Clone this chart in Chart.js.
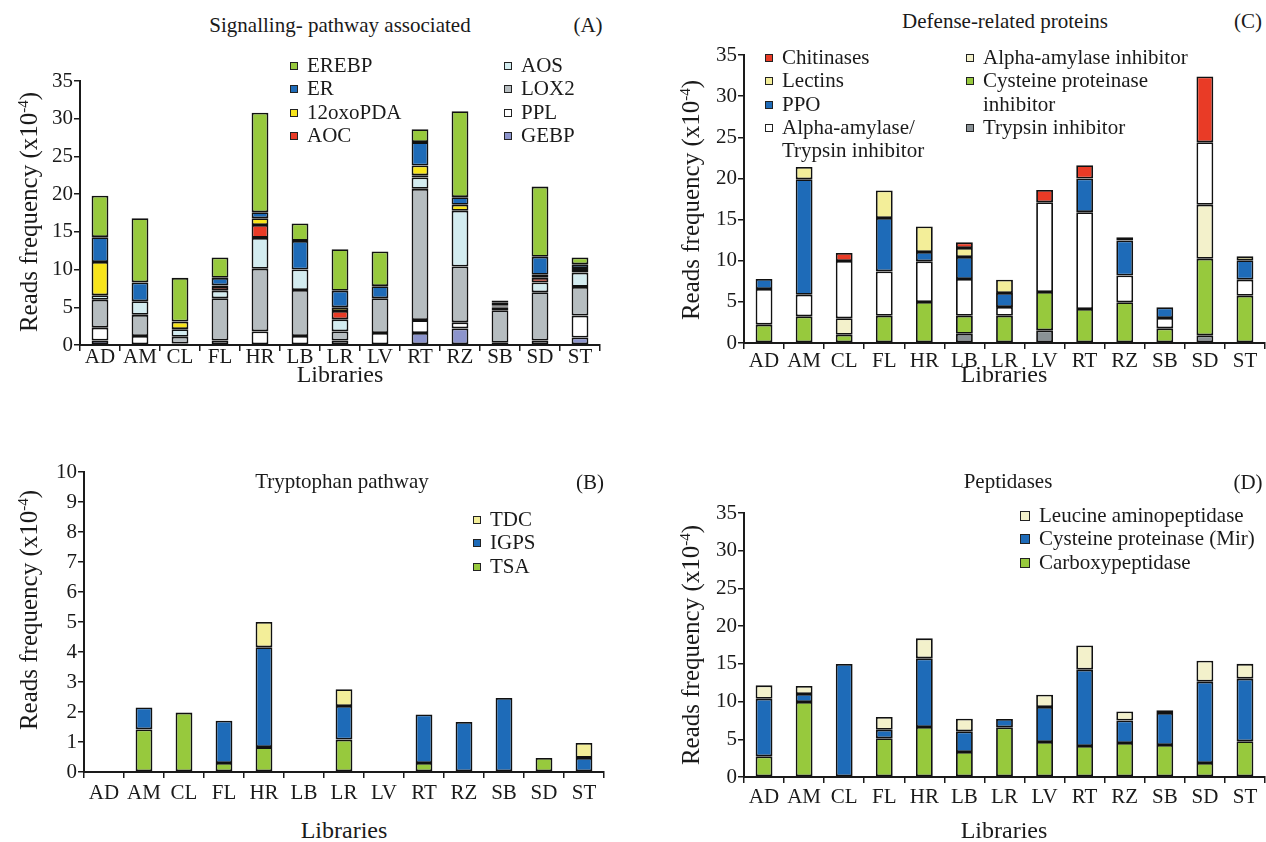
<!DOCTYPE html>
<html>
<head>
<meta charset="utf-8">
<script src="https://cdn.jsdelivr.net/npm/chart.js@4"></script>
<style>
  body { margin:0; background:#fff; width:1266px; height:842px; position:relative; overflow:hidden;
         font-family:'Liberation Serif','Times New Roman',serif; color:#1a1a1a; }
  canvas { position:absolute; }
  .t { position:absolute; white-space:nowrap; font-size:21px; transform:translate(-50%,-50%); }
  .lib { position:absolute; white-space:nowrap; font-size:24px; transform:translate(-50%,-50%); }
  .ylab { position:absolute; white-space:nowrap; font-size:25px; transform:translate(-50%,-50%) rotate(-90deg); }
  .ylab sup { font-size:15px; }
  .leg { position:absolute; font-size:21px; line-height:23.3px; white-space:nowrap; }
  .leg div { position:relative; padding-left:17px; }
  .leg i { position:absolute; left:0; top:8px; width:6px; height:6px; border:1.5px solid #222; }
  #legD div { padding-left:19px; }
  #legD i { width:8px; height:8px; top:7px; }
  .leg .cont i { display:none; }
</style>
</head>
<body>

<canvas id="chA"></canvas>
<canvas id="chB"></canvas>
<canvas id="chC"></canvas>
<canvas id="chD"></canvas>

<div class="t" style="left:340px;top:25px">Signalling- pathway associated</div>
<div class="t" style="left:588px;top:25px">(A)</div>
<div class="t" style="left:1005px;top:21px">Defense-related proteins</div>
<div class="t" style="left:1248px;top:21px">(C)</div>
<div class="t" style="left:342px;top:481px">Tryptophan pathway</div>
<div class="t" style="left:590px;top:482px">(B)</div>
<div class="t" style="left:1008px;top:481px">Peptidases</div>
<div class="t" style="left:1248px;top:482px">(D)</div>

<div class="lib" style="left:340px;top:374px">Libraries</div>
<div class="lib" style="left:1004px;top:374px">Libraries</div>
<div class="lib" style="left:344px;top:830px">Libraries</div>
<div class="lib" style="left:1004px;top:830px">Libraries</div>

<div class="ylab" style="left:29px;top:212px">Reads frequency (x10<sup>-4</sup>)</div>
<div class="ylab" style="left:691px;top:200px">Reads frequency (x10<sup>-4</sup>)</div>
<div class="ylab" style="left:29px;top:610px">Reads frequency (x10<sup>-4</sup>)</div>
<div class="ylab" style="left:691px;top:645px">Reads frequency (x10<sup>-4</sup>)</div>

<div id="legA1" class="leg" style="left:290px;top:54px"></div>
<div id="legA2" class="leg" style="left:504px;top:54px"></div>
<div id="legB" class="leg" style="left:473px;top:508px"></div>
<div id="legC1" class="leg" style="left:765px;top:46px"></div>
<div id="legC2" class="leg" style="left:966px;top:46px"></div>
<div id="legD" class="leg" style="left:1020px;top:504px"></div>

<script>
const libraries = ['AD','AM','CL','FL','HR','LB','LR','LV','RT','RZ','SB','SD','ST']

// (A) signalling pathway associated, stacked bottom -> top
const gebp   = [0.6, 0,   0,   0,   0,    0,   0,   0,   1.6,  2.2,  0,   0,   1.0]
const ppl    = [1.7, 1.2, 0.2, 0.6, 1.8,  1.2, 0.6, 1.6, 1.7,  0.8,  0.3, 0.6, 2.9]
const lox2   = [3.7, 2.8, 0.9, 5.6, 8.3,  6.1, 1.2, 4.6, 17.4, 7.4,  4.3, 6.4, 3.8]
const aos    = [0.6, 1.8, 1.0, 1.0, 4.1,  2.7, 1.6, 0,   1.5,  7.4,  0.4, 1.3, 1.9]
const aoc    = [0,   0,   0,   0.5, 1.7,  0,   1.1, 0,   0.3,  0,    0.1, 0.6, 0.2]
const oxopda = [4.4, 0,   1.0, 0.2, 0.9,  0,   0.5, 0,   1.3,  0.8,  0.1, 0.4, 0.4]
const er     = [3.3, 2.5, 0,   1.0, 0.8,  3.8, 2.2, 1.6, 3.1,  1.0,  0.4, 2.4, 0.5]
const erebp  = [5.5, 8.5, 5.8, 2.7, 13.2, 2.3, 5.5, 4.6, 1.7,  11.4, 0.3, 9.3, 0.9]

// (B) tryptophan pathway
const tsa  = [0, 1.42, 1.98, 0.3,  0.83, 0, 1.08, 0, 0.3,  0,    0,    0.47, 0]
const igps = [0, 0.73, 0,    1.41, 3.33, 0, 1.12, 0, 1.62, 1.67, 2.47, 0,    0.47]
const tdc  = [0, 0,    0,    0,    0.84, 0, 0.56, 0, 0,    0,    0,    0,    0.5]

// (C) defense-related proteins
const trypsinInh  = [0,    0,     0,    0,    0,    1.13, 0,    1.54, 0,     0,    0,    0.93, 0]
const cysInh      = [2.23, 3.24,  1.0,  3.32, 4.98, 2.19, 3.32, 4.66, 4.13,  4.96, 1.78, 9.31, 5.75]
const amylaseInh  = [0,    0,     2.0,  0,    0,    0,    0,    0,    0,     0,    0,    6.56, 0]
const amylTrypInh = [4.33, 2.63,  6.96, 5.38, 4.94, 4.45, 1.05, 10.9, 11.77, 3.24, 1.26, 7.6,  1.95]
const ppo         = [1.21, 14.03, 0,    6.5,  1.13, 2.68, 1.7,  0,    4.1,   4.25, 1.29, 0,    2.35]
const lectins     = [0,    1.5,   0,    3.34, 3.12, 1.09, 1.62, 0,    0,     0.4,  0,    0,    0.5]
const chitinases  = [0,    0,     0.97, 0,    0,    0.69, 0,    1.5,  1.6,   0,    0,    8.0,  0]

// (D) peptidases
const carboxy = [2.74, 9.94, 0,     5.13, 6.63, 3.31, 6.58, 4.64, 4.11,  4.5, 4.24, 1.86,  4.73]
const cysMir  = [7.64, 1.06, 14.98, 1.14, 9.1,  2.74, 1.11, 4.64, 10.12, 3.0, 4.24, 10.78, 8.31]
const leuAmp  = [1.77, 1.06, 0,     1.68, 2.65, 1.68, 0,    1.62, 3.22,  1.2, 0.36, 2.78,  1.96]

const C = {
  green: '#97C93D', blue: '#1E6BB8', yellow: '#F7E41B', red: '#E93B26', cyan: '#D3ECF0',
  grey: '#B6BDC0', white: '#FFFFFF', violet: '#8C94CC', lectin: '#F3EE99', pale: '#F3F1CB',
  dark: '#8A9296', ink: '#1a1a1a',
}
const FONT = "'Liberation Serif', 'Times New Roman', serif"

function ds(label, data, color) {
  return { label, data: data.map(v => v || null), backgroundColor: color,
    borderColor: '#111', borderWidth: 1.8, borderSkipped: false,
    categoryPercentage: 1, barPercentage: 0.42 }
}

// labelPad: gap between the x axis line and the category labels
function panel(id, box, yMax, step, labelPad, datasets) {
  const padTop = 15, padRight = 24, yW = 52, xH = 42
  const c = document.getElementById(id)
  c.width = yW + box.w + padRight
  c.height = padTop + box.h + xH
  c.style.left = (box.x - yW) + 'px'
  c.style.top = (box.y - padTop) + 'px'
  const axis = {
    grid: { drawOnChartArea: false, drawTicks: true, tickLength: 6, color: C.ink, lineWidth: 1.5 },
    border: { color: C.ink, width: 2 },
  }
  new Chart(c, {
    type: 'bar',
    data: { labels: libraries, datasets },
    options: {
      responsive: false, animation: false,
      layout: { padding: { top: padTop, right: padRight, left: 0, bottom: 0 } },
      plugins: { legend: { display: false }, tooltip: { enabled: false } },
      scales: {
        x: { ...axis, stacked: true,
             ticks: { color: C.ink, font: { family: FONT, size: 21 }, padding: labelPad, maxRotation: 0 },
             afterFit: s => { s.height = xH } },
        y: { ...axis, stacked: true, min: 0, max: yMax,
             ticks: { stepSize: step, color: C.ink, font: { family: FONT, size: 21 }, padding: 1 },
             afterFit: s => { s.width = yW } },
      },
    },
  })
}

function legend(id, items) {
  document.getElementById(id).innerHTML = items.map(([name, color]) =>
    color ? `<div><i style="background:${color}"></i>${name}</div>`
          : `<div class="cont"><i></i>${name}</div>`).join('')
}

panel('chA', { x: 80, y: 81, w: 520, h: 264 }, 35, 5, -6, [
  ds('GEBP', gebp, C.violet), ds('PPL', ppl, C.white), ds('LOX2', lox2, C.grey),
  ds('AOS', aos, C.cyan), ds('AOC', aoc, C.red), ds('12oxoPDA', oxopda, C.yellow),
  ds('ER', er, C.blue), ds('EREBP', erebp, C.green),
])
panel('chB', { x: 84, y: 472, w: 520, h: 300 }, 10, 1, 3, [
  ds('TSA', tsa, C.green), ds('IGPS', igps, C.blue), ds('TDC', tdc, C.lectin),
])
panel('chC', { x: 744, y: 55, w: 521, h: 288 }, 35, 5, 0, [
  ds('Trypsin inhibitor', trypsinInh, C.dark), ds('Cysteine proteinase inhibitor', cysInh, C.green),
  ds('Alpha-amylase inhibitor', amylaseInh, C.pale), ds('Alpha-amylase/Trypsin inhibitor', amylTrypInh, C.white),
  ds('PPO', ppo, C.blue), ds('Lectins', lectins, C.lectin), ds('Chitinases', chitinases, C.red),
])
panel('chD', { x: 744, y: 513, w: 521, h: 264 }, 35, 5, 2, [
  ds('Carboxypeptidase', carboxy, C.green), ds('Cysteine proteinase (Mir)', cysMir, C.blue),
  ds('Leucine aminopeptidase', leuAmp, C.pale),
])

legend('legA1', [['EREBP', C.green], ['ER', C.blue], ['12oxoPDA', C.yellow], ['AOC', C.red]])
legend('legA2', [['AOS', C.cyan], ['LOX2', C.grey], ['PPL', C.white], ['GEBP', C.violet]])
legend('legB', [['TDC', C.lectin], ['IGPS', C.blue], ['TSA', C.green]])
legend('legC1', [['Chitinases', C.red], ['Lectins', C.lectin], ['PPO', C.blue],
  ['Alpha-amylase/', C.white], ['Trypsin inhibitor', null]])
legend('legC2', [['Alpha-amylase inhibitor', C.pale], ['Cysteine proteinase', C.green],
  ['inhibitor', null], ['Trypsin inhibitor', C.dark]])
legend('legD', [['Leucine aminopeptidase', C.pale], ['Cysteine proteinase (Mir)', C.blue],
  ['Carboxypeptidase', C.green]])
</script>
</body>
</html>
